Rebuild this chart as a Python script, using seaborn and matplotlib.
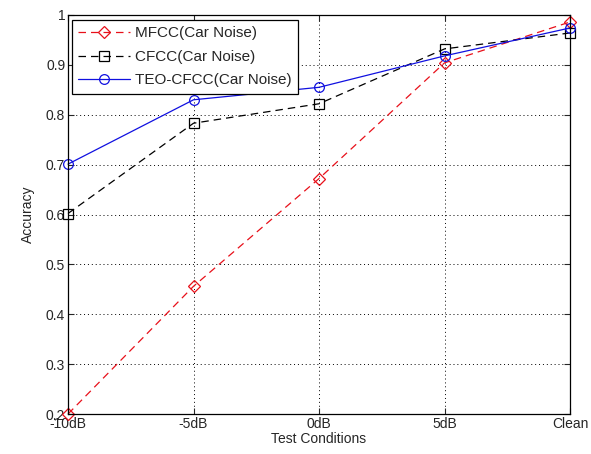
import matplotlib
matplotlib.use("Agg")
import matplotlib.pyplot as plt
import seaborn as sns
import pandas as pd
import numpy as np

conditions = ["-10dB", "-5dB", "0dB", "5dB", "Clean"]
mfcc = [0.200, 0.456, 0.672, 0.904, 0.986]
cfcc = [0.602, 0.783, 0.822, 0.932, 0.964]
teo_cfcc = [0.701, 0.830, 0.855, 0.918, 0.974]
series_names = ["MFCC(Car Noise)", "CFCC(Car Noise)", "TEO-CFCC(Car Noise)"]
y_ticks = [0.2, 0.3, 0.4, 0.5, 0.6, 0.7, 0.8, 0.9, 1.0]
y_tick_labels = ["0.2", "0.3", "0.4", "0.5", "0.6", "0.7", "0.8", "0.9", "1"]

sns.set_style("white")
plt.rcParams["font.family"] = ["Liberation Sans", "DejaVu Sans"]
plt.rcParams["font.size"] = 10

fig = plt.figure(figsize=(5.91, 4.54), dpi=100)
fig.patch.set_facecolor("white")
ax = fig.add_axes([68/591, 1 - 414/454, (570-68)/591, (414-15)/454])

x = np.arange(len(conditions))
styles = [
    dict(color="#e8101a", linestyle=(0, (6, 4)), marker="D", ms=6),
    dict(color="black", linestyle=(0, (6, 4)), marker="s", ms=7),
    dict(color="#1010e0", linestyle="-", marker="o", ms=7),
]
for vals, name, st in zip([mfcc, cfcc, teo_cfcc], series_names, styles):
    df = pd.DataFrame({"x": x, "y": vals})
    sns.lineplot(data=df, x="x", y="y", ax=ax, color=st["color"],
                 linestyle=st["linestyle"], marker=st["marker"],
                 markersize=st["ms"],
                 markerfacecolor="none", markeredgecolor=st["color"],
                 markeredgewidth=0.9, linewidth=0.9, label=name, clip_on=False)

ax.set_xlim(0, len(conditions) - 1)
ax.set_ylim(0.2, 1.0)
ax.set_xticks(x)
ax.set_xticklabels(conditions)
ax.set_yticks(y_ticks)
ax.set_yticklabels(y_tick_labels)
ax.set_xlabel("Test Conditions", labelpad=1)
ax.set_ylabel("Accuracy", labelpad=8)
ax.grid(True, color="black", linestyle=(0, (1, 3)), linewidth=0.7)
ax.tick_params(direction="in", length=4, width=0.8, top=True, right=True,
               bottom=True, left=True, pad=2, labelsize=10)
for sp in ax.spines.values():
    sp.set_color("black")
    sp.set_linewidth(0.9)

leg = ax.legend(loc="upper left", bbox_to_anchor=(4/502, 1 - 5/399),
                frameon=True, fancybox=False, shadow=False, handlelength=3.4,
                borderaxespad=0, borderpad=0.42, labelspacing=0.62,
                handletextpad=0.3, fontsize=11)
leg.get_frame().set_edgecolor("black")
leg.get_frame().set_linewidth(0.9)
leg.get_frame().set_alpha(1)

fig.text(278/591, 1.0 + 3/454, "Accuracy", ha="right", va="baseline",
         fontsize=11, fontweight="bold")

fig.savefig("out.png", dpi=100, facecolor="white")
